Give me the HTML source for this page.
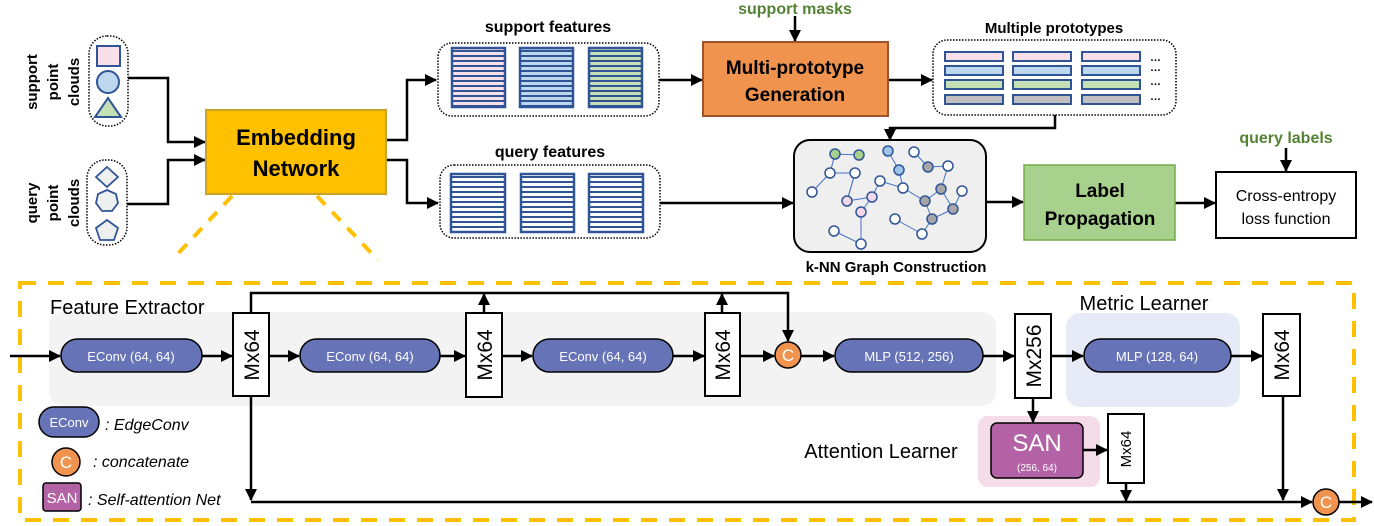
<!DOCTYPE html>
<html><head><meta charset="utf-8"><style>
html,body{margin:0;padding:0;background:#fff;}
svg{display:block;}
text{font-family:"Liberation Sans",sans-serif;}
</style></head><body>
<svg width="1374" height="526" viewBox="0 0 1374 526" xmlns="http://www.w3.org/2000/svg">
<defs>
<marker id="a" markerUnits="userSpaceOnUse" markerWidth="12" markerHeight="12" refX="11" refY="6" orient="auto"><path d="M0,0 L12,6 L0,12 z" fill="#000"/></marker>
<pattern id="pk" width="10" height="5" patternUnits="userSpaceOnUse" y="47"><rect width="10" height="5" fill="#f8dfea"/><rect y="3" width="10" height="2" fill="#2f5597"/></pattern>
<pattern id="pb" width="10" height="5" patternUnits="userSpaceOnUse" y="47"><rect width="10" height="5" fill="#bdd7ee"/><rect y="3" width="10" height="2" fill="#2f5597"/></pattern>
<pattern id="pg" width="10" height="5" patternUnits="userSpaceOnUse" y="47"><rect width="10" height="5" fill="#c5e0b4"/><rect y="3" width="10" height="2" fill="#2f5597"/></pattern>
<pattern id="pw" width="10" height="5" patternUnits="userSpaceOnUse" y="173"><rect width="10" height="5" fill="#fff"/><rect y="3" width="10" height="2" fill="#2f5597"/></pattern>
</defs>

<!-- input point clouds -->
<g font-weight="bold" font-size="15" text-anchor="middle" fill="#000">
<text transform="translate(37,82) rotate(-90)">support</text>
<text transform="translate(58,82) rotate(-90)">point</text>
<text transform="translate(79,82) rotate(-90)">clouds</text>
<text transform="translate(37,203) rotate(-90)">query</text>
<text transform="translate(58,203) rotate(-90)">point</text>
<text transform="translate(79,203) rotate(-90)">clouds</text>
</g>
<rect x="89" y="36" width="39" height="90" rx="18" fill="none" stroke="#000" stroke-width="1.5" stroke-dasharray="1.5,1.5"/>
<rect x="97" y="46" width="23" height="20" fill="#f8dfea" stroke="#2f5597" stroke-width="2"/>
<circle cx="108" cy="82" r="11" fill="#bdd7ee" stroke="#2f5597" stroke-width="2"/>
<polygon points="108,98 121,117 95,117" fill="#c5e0b4" stroke="#2f5597" stroke-width="2"/>
<rect x="87" y="160" width="40" height="85" rx="18" fill="none" stroke="#000" stroke-width="1.5" stroke-dasharray="1.5,1.5"/>
<polygon points="107,167 118,177 107,187 96,177" fill="#eef0f0" stroke="#2f5597" stroke-width="1.8"/>
<polygon points="107,190 116,194 118,203 112,211 102,211 96,203 98,194" fill="#eef0f0" stroke="#2f5597" stroke-width="1.8"/>
<polygon points="107,220 118,228 114,240 100,240 96,228" fill="#eef0f0" stroke="#2f5597" stroke-width="1.8"/>

<!-- connectors top -->
<g fill="none" stroke="#000" stroke-width="2.5">
<polyline points="128,78 168,78 168,142 205,142" marker-end="url(#a)"/>
<polyline points="127,204 168,204 168,160 205,160" marker-end="url(#a)"/>
<polyline points="386,140 407,140 407,80 436,80" marker-end="url(#a)"/>
<polyline points="386,160 407,160 407,203 438,203" marker-end="url(#a)"/>
<line x1="659" y1="80" x2="702" y2="80" marker-end="url(#a)"/>
<line x1="795" y1="16" x2="795" y2="41" marker-end="url(#a)"/>
<line x1="888" y1="80" x2="932" y2="80" marker-end="url(#a)"/>
<polyline points="1055,115 1055,128 890,128 890,140" marker-end="url(#a)"/>
<line x1="660" y1="203" x2="793" y2="203" marker-end="url(#a)"/>
<line x1="986" y1="202" x2="1023" y2="202" marker-end="url(#a)"/>
<line x1="1175" y1="203" x2="1215" y2="203" marker-end="url(#a)"/>
<line x1="1286" y1="148" x2="1286" y2="171" marker-end="url(#a)"/>
</g>

<!-- embedding -->
<rect x="206" y="110" width="180" height="84" fill="#ffc000" stroke="#c9a227" stroke-width="2"/>
<text x="296" y="145" font-size="22" font-weight="bold" text-anchor="middle">Embedding</text>
<text x="296" y="176" font-size="22" font-weight="bold" text-anchor="middle">Network</text>
<g stroke="#ffc000" stroke-width="4" stroke-dasharray="12,10">
<line x1="232" y1="196" x2="172" y2="260"/>
<line x1="317" y1="196" x2="378" y2="260"/>
</g>

<!-- support features -->
<text x="548" y="32" font-size="16" font-weight="bold" text-anchor="middle">support features</text>
<rect x="438" y="43" width="221" height="73" rx="14" fill="none" stroke="#000" stroke-width="1.5" stroke-dasharray="1.5,1.5"/>
<rect x="452" y="48" width="53" height="59" fill="url(#pk)" stroke="#2f5597" stroke-width="2.5"/>
<rect x="520" y="48" width="53" height="59" fill="url(#pb)" stroke="#2f5597" stroke-width="2.5"/>
<rect x="589" y="48" width="53" height="59" fill="url(#pg)" stroke="#2f5597" stroke-width="2.5"/>
<!-- query features -->
<text x="550" y="157" font-size="16" font-weight="bold" text-anchor="middle">query features</text>
<rect x="440" y="165" width="220" height="73" rx="14" fill="none" stroke="#000" stroke-width="1.5" stroke-dasharray="1.5,1.5"/>
<rect x="451" y="174" width="54" height="58" fill="url(#pw)" stroke="#2f5597" stroke-width="2.5"/>
<rect x="521" y="174" width="53" height="58" fill="url(#pw)" stroke="#2f5597" stroke-width="2.5"/>
<rect x="589" y="174" width="54" height="58" fill="url(#pw)" stroke="#2f5597" stroke-width="2.5"/>

<!-- multi-prototype -->
<text x="795" y="14" font-size="16" font-weight="bold" fill="#548235" text-anchor="middle">support masks</text>
<rect x="703" y="42" width="185" height="74" fill="#f0934f" stroke="#a0522d" stroke-width="2"/>
<text x="795" y="74" font-size="19" font-weight="bold" text-anchor="middle">Multi-prototype</text>
<text x="795" y="101" font-size="19" font-weight="bold" text-anchor="middle">Generation</text>

<text x="1054" y="33" font-size="15" font-weight="bold" text-anchor="middle">Multiple prototypes</text>
<rect x="933" y="40" width="243" height="75" rx="14" fill="none" stroke="#000" stroke-width="1.5" stroke-dasharray="1.5,1.5"/>
<g stroke="#2f5597" stroke-width="2">
<rect x="945" y="52" width="58" height="9" fill="#f8dfea"/><rect x="1013" y="52" width="58" height="9" fill="#f8dfea"/><rect x="1082" y="52" width="58" height="9" fill="#f8dfea"/>
<rect x="945" y="66" width="58" height="9" fill="#bdd7ee"/><rect x="1013" y="66" width="58" height="9" fill="#bdd7ee"/><rect x="1082" y="66" width="58" height="9" fill="#bdd7ee"/>
<rect x="945" y="80" width="58" height="9" fill="#c5e0b4"/><rect x="1013" y="80" width="58" height="9" fill="#c5e0b4"/><rect x="1082" y="80" width="58" height="9" fill="#c5e0b4"/>
<rect x="945" y="95" width="58" height="9" fill="#bfbfbf"/><rect x="1013" y="95" width="58" height="9" fill="#bfbfbf"/><rect x="1082" y="95" width="58" height="9" fill="#bfbfbf"/>
</g>
<g font-size="11" font-weight="bold"><text x="1150" y="61">…</text><text x="1150" y="71">…</text><text x="1150" y="85">…</text><text x="1150" y="100">…</text></g>

<!-- graph -->
<rect x="794" y="140" width="192" height="112" rx="16" fill="#efefef" stroke="#000" stroke-width="2"/>
<g stroke="#4472c4" stroke-width="1" fill="none">
<polyline points="859,155 835,154 830,173 855,173 847,201 872,197 880,181 903,188 925,201 941,189 948,166 928,167 914,152"/>
<polyline points="830,173 812,192"/>
<polyline points="888,151 899,170 903,188"/>
<polyline points="855,173 847,201"/>
<polyline points="872,197 861,212 861,244 834,231"/>
<polyline points="941,189 953,209 962,191"/>
<polyline points="925,201 932,219 953,209"/>
<polyline points="932,219 922,234 895,219"/>
</g>
<g stroke="#2f5597" stroke-width="1.5">
<circle cx="835" cy="154" r="5" fill="#a9d18e"/><circle cx="859" cy="155" r="5" fill="#a9d18e"/>
<circle cx="888" cy="151" r="5" fill="#9dc3e6"/><circle cx="899" cy="170" r="5" fill="#9dc3e6"/>
<circle cx="914" cy="152" r="5" fill="#fff"/><circle cx="928" cy="167" r="5" fill="#a6a6a6"/>
<circle cx="948" cy="166" r="5" fill="#fff"/><circle cx="830" cy="173" r="5" fill="#fff"/>
<circle cx="855" cy="173" r="5" fill="#fff"/><circle cx="880" cy="181" r="5" fill="#fff"/>
<circle cx="903" cy="188" r="5" fill="#fff"/><circle cx="941" cy="189" r="5" fill="#a6a6a6"/>
<circle cx="962" cy="191" r="5" fill="#fff"/><circle cx="812" cy="192" r="5" fill="#fff"/>
<circle cx="847" cy="201" r="5" fill="#f4d7e8"/><circle cx="872" cy="197" r="5" fill="#f4d7e8"/>
<circle cx="925" cy="201" r="5" fill="#a6a6a6"/><circle cx="953" cy="209" r="5" fill="#a6a6a6"/>
<circle cx="861" cy="212" r="5" fill="#f4d7e8"/><circle cx="895" cy="219" r="5" fill="#fff"/>
<circle cx="932" cy="219" r="5" fill="#a6a6a6"/><circle cx="834" cy="231" r="5" fill="#fff"/>
<circle cx="861" cy="244" r="5" fill="#fff"/><circle cx="922" cy="234" r="5" fill="#fff"/>
</g>
<text x="896" y="272" font-size="15" font-weight="bold" text-anchor="middle">k-NN Graph Construction</text>

<rect x="1024" y="165" width="151" height="75" fill="#a9d18e" stroke="#70ad47" stroke-width="1.5"/>
<text x="1100" y="197" font-size="19" font-weight="bold" text-anchor="middle">Label</text>
<text x="1100" y="225" font-size="19" font-weight="bold" text-anchor="middle">Propagation</text>
<text x="1286" y="143" font-size="16" font-weight="bold" fill="#548235" text-anchor="middle">query labels</text>
<rect x="1216" y="172" width="140" height="66" fill="#fff" stroke="#000" stroke-width="2"/>
<text x="1286" y="201" font-size="16" text-anchor="middle">Cross-entropy</text>
<text x="1286" y="224" font-size="16" text-anchor="middle">loss function</text>

<!-- bottom section -->
<rect x="20" y="283" width="1334" height="237" fill="none" stroke="#ffc000" stroke-width="4" stroke-dasharray="16,12"/>
<rect x="49" y="312" width="947" height="94" rx="14" fill="#f2f3f2"/>
<rect x="1066" y="313" width="174" height="94" rx="14" fill="#e6ebf7"/>
<rect x="978" y="416" width="122" height="71" rx="10" fill="#f5dce9"/>
<text x="50" y="314" font-size="20">Feature Extractor</text>
<text x="1144" y="310" font-size="20" text-anchor="middle">Metric Learner</text>
<text x="881" y="458" font-size="20" text-anchor="middle">Attention Learner</text>

<g fill="none" stroke="#000" stroke-width="2.5">
<line x1="10" y1="356" x2="60" y2="356" marker-end="url(#a)"/>
<line x1="202" y1="356" x2="232" y2="356" marker-end="url(#a)"/>
<line x1="269" y1="356" x2="299" y2="356" marker-end="url(#a)"/>
<line x1="440" y1="356" x2="465" y2="356" marker-end="url(#a)"/>
<line x1="502" y1="356" x2="532" y2="356" marker-end="url(#a)"/>
<line x1="673" y1="356" x2="704" y2="356" marker-end="url(#a)"/>
<line x1="740" y1="356" x2="774" y2="356" marker-end="url(#a)"/>
<line x1="801" y1="356" x2="834" y2="356" marker-end="url(#a)"/>
<line x1="983" y1="356" x2="1014" y2="356" marker-end="url(#a)"/>
<line x1="1051" y1="356" x2="1083" y2="356" marker-end="url(#a)"/>
<line x1="1231" y1="356" x2="1262" y2="356" marker-end="url(#a)"/>
<polyline points="251,313 251,293 788,293 788,341" marker-end="url(#a)"/>
<line x1="484" y1="313" x2="484" y2="294" marker-end="url(#a)"/>
<line x1="722" y1="313" x2="722" y2="294" marker-end="url(#a)"/>
<line x1="251" y1="396" x2="251" y2="500" marker-end="url(#a)"/>
<line x1="251" y1="502" x2="1312" y2="502" marker-end="url(#a)"/>
<line x1="1339" y1="502" x2="1372" y2="502" marker-end="url(#a)"/>
<line x1="1033" y1="398" x2="1033" y2="422" marker-end="url(#a)"/>
<line x1="1083" y1="450" x2="1107" y2="450" marker-end="url(#a)"/>
<line x1="1126" y1="483" x2="1126" y2="501" marker-end="url(#a)"/>
<line x1="1283" y1="396" x2="1283" y2="500" marker-end="url(#a)"/>
</g>

<g fill="#6673b6" stroke="#000" stroke-width="1.5">
<rect x="61" y="339" width="141" height="33" rx="16.5"/>
<rect x="300" y="339" width="140" height="33" rx="16.5"/>
<rect x="533" y="339" width="140" height="33" rx="16.5"/>
<rect x="835" y="339" width="148" height="33" rx="16.5"/>
<rect x="1084" y="339" width="147" height="33" rx="16.5"/>
<rect x="39" y="407" width="60" height="30" rx="15"/>
</g>
<g fill="#fff" font-size="13" text-anchor="middle">
<text x="131" y="361">EConv (64, 64)</text>
<text x="370" y="361">EConv (64, 64)</text>
<text x="603" y="361">EConv (64, 64)</text>
<text x="909" y="361">MLP (512, 256)</text>
<text x="1157" y="361">MLP (128, 64)</text>
<text x="69" y="427">EConv</text>
</g>

<g fill="#fff" stroke="#000" stroke-width="2">
<rect x="233" y="313" width="36" height="83"/>
<rect x="466" y="313" width="36" height="84"/>
<rect x="705" y="313" width="35" height="83"/>
<rect x="1015" y="314" width="36" height="84"/>
<rect x="1263" y="314" width="37" height="82"/>
<rect x="1108" y="414" width="36" height="69"/>
</g>
<g font-size="21" text-anchor="middle">
<text transform="translate(259,355) rotate(-90)">Mx64</text>
<text transform="translate(492,355) rotate(-90)">Mx64</text>
<text transform="translate(730,355) rotate(-90)">Mx64</text>
<text transform="translate(1041,356) rotate(-90)">Mx256</text>
<text transform="translate(1289,355) rotate(-90)">Mx64</text>
<text transform="translate(1131,449) rotate(-90)" font-size="15">Mx64</text>
</g>

<g fill="#f0934f" stroke="#000" stroke-width="1.5">
<circle cx="788" cy="355" r="13"/>
<circle cx="1326" cy="502" r="13"/>
<circle cx="66" cy="462" r="14"/>
</g>
<g fill="#fff" font-size="17" text-anchor="middle">
<text x="788" y="361">C</text><text x="1326" y="508">C</text><text x="66" y="468">C</text>
</g>

<rect x="991" y="423" width="92" height="55" rx="6" fill="#b462a6" stroke="#000" stroke-width="1.5"/>
<text x="1037" y="451" font-size="24" fill="#fff" text-anchor="middle">SAN</text>
<text x="1037" y="471" font-size="10" fill="#fff" text-anchor="middle">(256, 64)</text>
<rect x="43" y="483" width="38" height="28" rx="3" fill="#b462a6" stroke="#000" stroke-width="1.5"/>
<text x="62" y="503" font-size="15" fill="#fff" text-anchor="middle">SAN</text>

<g font-size="16" font-style="italic">
<text x="105" y="430">: EdgeConv</text>
<text x="93" y="467">: concatenate</text>
<text x="88" y="505">: Self-attention Net</text>
</g>
</svg>
</body></html>
